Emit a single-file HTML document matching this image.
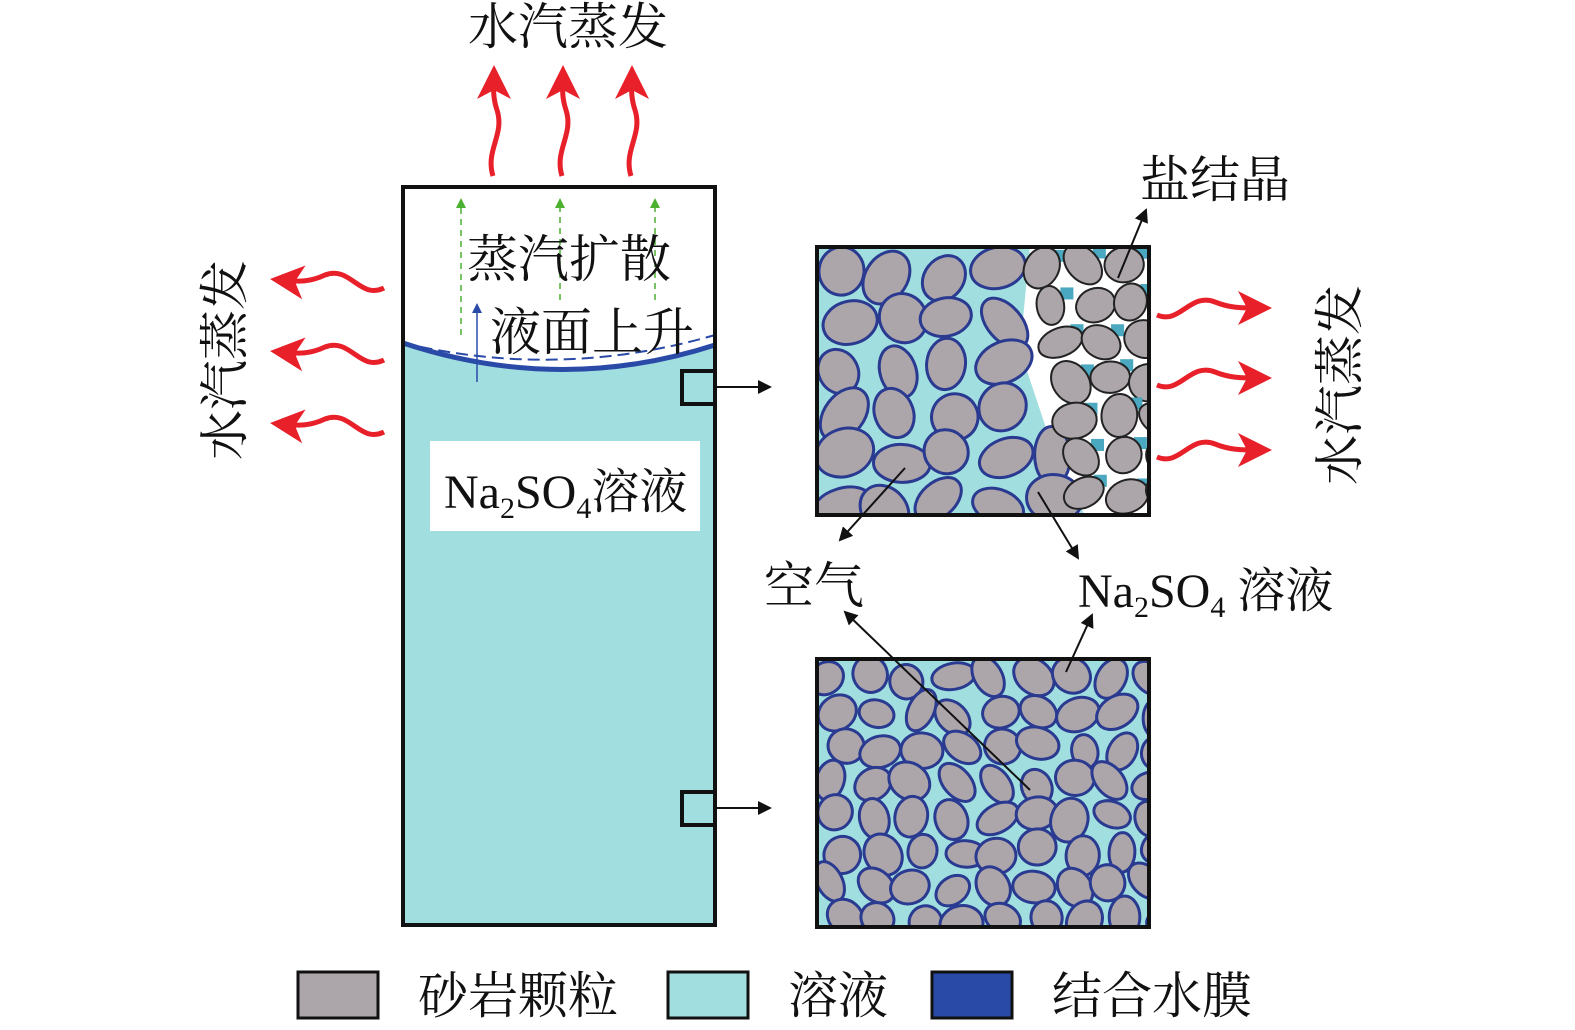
<!DOCTYPE html>
<html><head><meta charset="utf-8"><style>
html,body{margin:0;padding:0;background:#fff;}
svg{display:block;}
text{font-family:"Liberation Serif","Noto Serif CJK SC","Noto Sans CJK SC",serif;fill:#111;}
</style></head><body>
<svg id="s" width="1575" height="1030" viewBox="0 0 1575 1030" xmlns="http://www.w3.org/2000/svg">
<defs>
<marker id="ahl" markerWidth="14" markerHeight="14" refX="12" refY="7" orient="auto" markerUnits="userSpaceOnUse"><path d="M0,0 L14,7 L0,14 z" fill="#111"/></marker>
<marker id="ag" markerWidth="10" markerHeight="10" refX="8" refY="5" orient="auto" markerUnits="userSpaceOnUse"><path d="M0,0 L10,5 L0,10 z" fill="#4cb030"/></marker>
<marker id="ab" markerWidth="10" markerHeight="10" refX="8" refY="5" orient="auto" markerUnits="userSpaceOnUse"><path d="M0,0 L10,5 L0,10 z" fill="#2a4aa8"/></marker>
<marker id="ar" markerWidth="34" markerHeight="34" refX="24" refY="17" orient="auto" markerUnits="userSpaceOnUse"><path d="M0,0 L34,17 L0,34 L9,17 z" fill="#e8202a"/></marker>
<clipPath id="c1"><rect x="818" y="248" width="330" height="266"/></clipPath>
<clipPath id="c2"><rect x="818" y="660" width="330" height="266"/></clipPath>
</defs>

<text x="568" y="44" font-size="50" text-anchor="middle">水汽蒸发</text>
<g stroke="#e8202a" stroke-width="5" fill="none">
<path d="M493,176 C485,150 505,135 497,110 C492,95 494,85 494,75" marker-end="url(#ar)"/>
<path d="M562,176 C554,150 574,135 566,110 C561,95 563,85 563,75" marker-end="url(#ar)"/>
<path d="M631,176 C623,150 643,135 635,110 C630,95 632,85 632,75" marker-end="url(#ar)"/>
</g>

<path d="M403,343 Q560,395 715,345 L715,925 L403,925 Z" fill="#a1dedf"/>
<path d="M403,343 Q560,395 715,345" fill="none" stroke="#2a4aa8" stroke-width="5"/>
<path d="M403,343 Q560,380 715,335" fill="none" stroke="#2a4aa8" stroke-width="2" stroke-dasharray="12,6"/>
<rect x="403" y="187" width="312" height="738" fill="none" stroke="#111" stroke-width="4"/>
<g stroke="#4cb030" stroke-width="1.5" stroke-dasharray="6,5" fill="none">
<line x1="461" y1="335" x2="461" y2="200" marker-end="url(#ag)"/>
<line x1="560" y1="300" x2="560" y2="200" marker-end="url(#ag)"/>
<line x1="655" y1="300" x2="655" y2="200" marker-end="url(#ag)"/>
</g>
<line x1="477" y1="382" x2="477" y2="305" stroke="#2a4aa8" stroke-width="1.5" marker-end="url(#ab)"/>
<text x="467" y="277" font-size="51">蒸汽扩散</text>
<text x="490" y="350" font-size="51">液面上升</text>
<rect x="430" y="441" width="270" height="90" fill="#fff"/>
<text x="444" y="508" font-size="48">Na<tspan font-size="30" dy="10">2</tspan><tspan dy="-10">SO</tspan><tspan font-size="30" dy="10">4</tspan><tspan dy="-10">溶液</tspan></text>

<text transform="translate(242,360) rotate(-90)" font-size="50" text-anchor="middle">水汽蒸发</text>
<g stroke="#e8202a" stroke-width="5" fill="none">
<path d="M384,288 C360,300 350,265 325,275 C310,282 300,282 280,280" marker-end="url(#ar)"/>
<path d="M384,360 C360,372 350,337 325,347 C310,354 300,354 280,352" marker-end="url(#ar)"/>
<path d="M384,432 C360,444 350,409 325,419 C310,426 300,426 280,424" marker-end="url(#ar)"/>
<path d="M1157,315 C1180,325 1190,292 1215,302 C1230,308 1240,308 1262,308" marker-end="url(#ar)"/>
<path d="M1157,385 C1180,395 1190,362 1215,372 C1230,378 1240,378 1262,378" marker-end="url(#ar)"/>
<path d="M1157,457 C1180,467 1190,434 1215,444 C1230,450 1240,450 1262,450" marker-end="url(#ar)"/>
</g>
<text transform="translate(1357,385) rotate(-90)" font-size="50" text-anchor="middle">水汽蒸发</text>

<rect x="682" y="371" width="33" height="33" fill="none" stroke="#111" stroke-width="4"/>
<rect x="682" y="792" width="33" height="33" fill="none" stroke="#111" stroke-width="4"/>
<line x1="716" y1="387" x2="770" y2="387" stroke="#111" stroke-width="2" marker-end="url(#ahl)"/>
<line x1="716" y1="808" x2="770" y2="808" stroke="#111" stroke-width="2" marker-end="url(#ahl)"/>

<g clip-path="url(#c1)">
<rect x="816" y="246" width="334" height="270" fill="#fff"/>
<path d="M816,246 L1030,246 L1020,350 L1050,440 L1085,516 L816,516 Z" fill="#a1dedf"/>
<g id="p1"></g>
</g>
<rect x="817" y="247" width="332" height="268" fill="none" stroke="#111" stroke-width="4"/>
<g clip-path="url(#c2)">
<rect x="816" y="658" width="334" height="270" fill="#a1dedf"/>
<g id="p2"></g>
</g>
<rect x="817" y="659" width="332" height="268" fill="none" stroke="#111" stroke-width="4"/>

<text x="1140" y="197" font-size="50">盐结晶</text>
<line x1="1118" y1="278" x2="1146" y2="210" stroke="#111" stroke-width="2" marker-end="url(#ahl)"/>
<text x="764" y="603" font-size="50">空气</text>
<line x1="905" y1="468" x2="840" y2="540" stroke="#111" stroke-width="2" marker-end="url(#ahl)"/>
<line x1="1030" y1="790" x2="845" y2="612" stroke="#111" stroke-width="2" marker-end="url(#ahl)"/>
<text x="1078" y="607" font-size="48">Na<tspan font-size="30" dy="10">2</tspan><tspan dy="-10">SO</tspan><tspan font-size="30" dy="10">4</tspan><tspan dy="-10"> 溶液</tspan></text>
<line x1="1038" y1="492" x2="1078" y2="558" stroke="#111" stroke-width="2" marker-end="url(#ahl)"/>
<line x1="1066" y1="672" x2="1092" y2="615" stroke="#111" stroke-width="2" marker-end="url(#ahl)"/>

<rect x="298" y="972" width="80" height="46" fill="#aca6ab" stroke="#111" stroke-width="3"/>
<text x="418" y="1013" font-size="50">砂岩颗粒</text>
<rect x="668" y="972" width="80" height="46" fill="#a1dedf" stroke="#111" stroke-width="3"/>
<text x="788" y="1013" font-size="50">溶液</text>
<rect x="932" y="972" width="80" height="46" fill="#2a4aa8" stroke="#111" stroke-width="3"/>
<text x="1052" y="1013" font-size="50">结合水膜</text>
</svg>
<script>
(function(){
var seed=7;function r(){seed=(seed*16807)%2147483647;return (seed-1)/2147483646;}
var NS="http://www.w3.org/2000/svg";
function ell(g,cx,cy,rx,ry,stroke,sw){var e=document.createElementNS(NS,"ellipse");
e.setAttribute("cx",cx);e.setAttribute("cy",cy);e.setAttribute("rx",rx);e.setAttribute("ry",ry);
e.setAttribute("transform","rotate("+(r()*180)+" "+cx+" "+cy+")");
e.setAttribute("fill","#aca6ab");e.setAttribute("stroke",stroke);e.setAttribute("stroke-width",sw);g.appendChild(e);}
function fill(g,x0,y0,w,h,step,xmaxf){
  for(var y=y0+step/2;y<y0+h+step/2;y+=step*0.82){
    for(var x=x0+step/2+(r()-0.5)*step*0.3;x<x0+w+step/2;x+=step*0.95){
      var cx=x+(r()-0.5)*step*0.25, cy=y+(r()-0.5)*step*0.25;
      if(xmaxf && cx>xmaxf(cy)) continue;
      ell(g,cx,cy,step*(0.4+r()*0.14),step*(0.3+r()*0.14),"#2a3a90",3);
    }
  }
}
var g1=document.getElementById("p1");
fill(g1,816,246,220,270,56,function(y){return 1015+(y-246)*0.2;});
seed=99;
for(var y=266;y<525;y+=38){for(var x=1045+(y-246)*0.18+(r()-0.5)*8;x<1170;x+=40){var cx=x+(r()-0.5)*6,cy=y+(r()-0.5)*6;
if(r()<0.6){var q=document.createElementNS(NS,"rect");q.setAttribute("x",cx+10);q.setAttribute("y",cy-18);q.setAttribute("width",13);q.setAttribute("height",12);q.setAttribute("fill","#4aa8c0");g1.appendChild(q);}
ell(g1,cx,cy,17+r()*6,13+r()*6,"#222",2);}}
seed=31;
fill(document.getElementById("p2"),816,658,334,270,42,null);
})();
</script>
</body></html>
